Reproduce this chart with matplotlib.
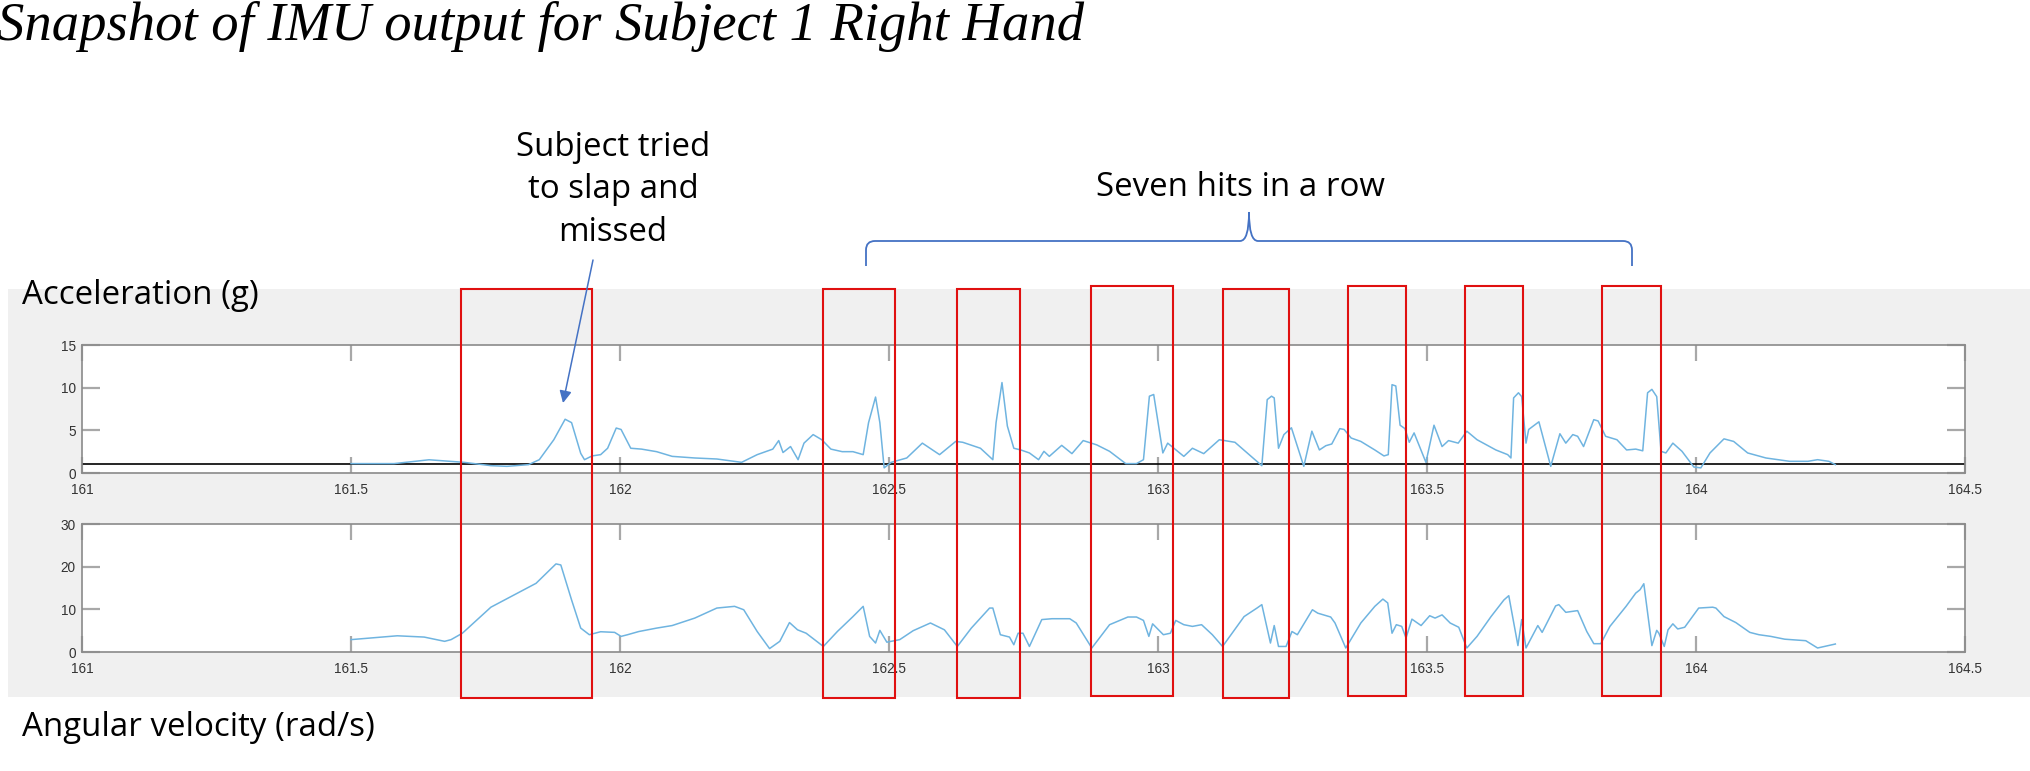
import numpy as np
import matplotlib
matplotlib.use("Agg")
import matplotlib.pyplot as plt
from matplotlib.patches import Rectangle, PathPatch
from matplotlib.path import Path
from matplotlib.transforms import blended_transform_factory

# ---------------- data ----------------
t_acc = [161.50, 161.58, 161.645, 161.71, 161.76, 161.79, 161.83, 161.85, 161.877, 161.898,
         161.91, 161.927, 161.934, 161.948, 161.964, 161.977, 161.993, 162.002, 162.02, 162.04,
         162.068, 162.097, 162.139, 162.18, 162.226, 162.255, 162.284, 162.295, 162.303, 162.317,
         162.331, 162.342, 162.359, 162.375, 162.392, 162.413, 162.433, 162.452, 162.462, 162.475,
         162.483, 162.491, 162.504, 162.533, 162.562, 162.594, 162.624, 162.637, 162.67, 162.693,
         162.699, 162.71, 162.72, 162.732, 162.745, 162.761, 162.778, 162.788, 162.798, 162.821,
         162.84, 162.861, 162.886, 162.91, 162.94, 162.96, 162.973, 162.984, 162.992, 163.002,
         163.009, 163.018, 163.048, 163.064, 163.085, 163.114, 163.143, 163.193, 163.203, 163.211,
         163.216, 163.224, 163.234, 163.248, 163.271, 163.286, 163.30, 163.312, 163.323, 163.338,
         163.346, 163.359, 163.377, 163.403, 163.42, 163.428, 163.435, 163.442, 163.45, 163.459,
         163.467, 163.476, 163.498, 163.513, 163.528, 163.54, 163.558, 163.574, 163.593, 163.628,
         163.65, 163.656, 163.661, 163.67, 163.676, 163.684, 163.689, 163.708, 163.73, 163.747,
         163.758, 163.771, 163.78, 163.791, 163.81, 163.818, 163.832, 163.853, 163.871, 163.888,
         163.901, 163.91, 163.918, 163.927, 163.935, 163.944, 163.957, 163.974, 163.996, 164.009,
         164.026, 164.052, 164.07, 164.096, 164.13, 164.174, 164.208, 164.226, 164.247, 164.259]
acc = [1.1, 1.1, 1.55, 1.25, 0.86, 0.78, 0.98, 1.56, 3.9, 6.3,
       5.9, 2.3, 1.56, 2.0, 2.15, 2.9, 5.27, 5.1, 2.9, 2.8,
       2.5, 1.95, 1.76, 1.64, 1.25, 2.15, 2.8, 3.8, 2.4, 3.1,
       1.56, 3.5, 4.5, 3.9, 2.8, 2.5, 2.5, 2.15, 5.9, 8.9,
       5.9, 0.6, 1.25, 1.76, 3.5, 2.15, 3.7, 3.6, 2.9, 1.56,
       5.9, 10.6, 5.5, 2.9, 2.7, 2.35, 1.56, 2.54, 1.95, 3.24,
       2.27, 3.8, 3.3, 2.54, 1.1, 1.1, 1.56, 9.0, 9.2, 5.2,
       2.35, 3.5, 1.95, 2.9, 2.27, 3.9, 3.6, 0.86, 8.6, 9.0,
       8.8, 2.9, 4.5, 5.3, 0.78, 4.9, 2.7, 3.2, 3.4, 5.2,
       5.1, 4.1, 3.7, 2.7, 2.0, 2.15, 10.35, 10.2, 5.6, 5.2,
       3.6, 4.7, 1.25, 5.6, 3.1, 3.8, 3.5, 4.9, 3.9, 2.7,
       2.15, 1.76, 8.8, 9.4, 8.95, 3.5, 5.1, 6.0, 0.78, 4.6,
       3.5, 4.5, 4.3, 3.1, 6.25, 6.1, 4.3, 3.9, 2.7, 2.8,
       2.6, 9.4, 9.8, 8.95, 2.54, 2.35, 3.5, 2.54, 0.7, 0.6,
       2.35, 4.0, 3.7, 2.35, 1.76, 1.37, 1.37, 1.56, 1.37, 0.98]

t_gyr = [161.5, 161.586, 161.636, 161.674, 161.686, 161.707, 161.76, 161.844, 161.881, 161.89,
         161.91, 161.927, 161.943, 161.964, 161.99, 162.002, 162.014, 162.035, 162.068, 162.097,
         162.139, 162.18, 162.213, 162.23, 162.255, 162.278, 162.297, 162.315, 162.33, 162.346,
         162.378, 162.404, 162.433, 162.452, 162.464, 162.475, 162.483, 162.496, 162.52, 162.545,
         162.577, 162.603, 162.627, 162.653, 162.687, 162.693, 162.707, 162.724, 162.732, 162.74,
         162.749, 162.761, 162.784, 162.803, 162.836, 162.848, 162.877, 162.91, 162.944, 162.96,
         162.973, 162.983, 162.99, 163.01, 163.023, 163.033, 163.048, 163.064, 163.081, 163.101,
         163.12, 163.16, 163.184, 163.193, 163.209, 163.216, 163.224, 163.238, 163.249, 163.259,
         163.287, 163.297, 163.321, 163.329, 163.349, 163.377, 163.403, 163.418, 163.427, 163.435,
         163.443, 163.453, 163.461, 163.472, 163.489, 163.505, 163.515, 163.528, 163.543, 163.559,
         163.574, 163.593, 163.619, 163.643, 163.652, 163.669, 163.676, 163.684, 163.706, 163.714,
         163.739, 163.745, 163.758, 163.78, 163.797, 163.81, 163.823, 163.84, 163.87, 163.888,
         163.896, 163.903, 163.918, 163.927, 163.931, 163.941, 163.948, 163.957, 163.966, 163.979,
         164.005, 164.031, 164.037, 164.052, 164.074, 164.1, 164.117, 164.139, 164.165, 164.204,
         164.226, 164.239, 164.259]
gyr = [2.9, 3.8, 3.5, 2.5, 2.9, 4.4, 10.5, 16.1, 20.65, 20.4,
       12.2, 5.6, 4.05, 4.75, 4.6, 3.66, 4.05, 4.8, 5.6, 6.2,
       7.95, 10.3, 10.7, 9.9, 4.8, 0.8, 2.5, 6.9, 5.2, 4.4,
       1.3, 4.8, 8.3, 10.7, 3.66, 2.1, 5.07, 2.3, 2.9, 5.0,
       6.8, 5.2, 1.3, 5.6, 10.3, 10.3, 4.05, 3.5, 1.7, 4.4,
       4.4, 1.3, 7.6, 7.8, 7.8, 6.8, 0.94, 6.4, 8.2, 8.2,
       7.4, 3.66, 6.6, 4.05, 4.4, 7.4, 6.4, 6.0, 6.4, 4.05,
       1.3, 8.3, 10.3, 11.1, 2.1, 6.2, 1.3, 1.3, 4.8, 4.05,
       9.9, 9.1, 8.2, 6.8, 0.94, 6.8, 10.7, 12.4, 11.5, 4.4,
       6.4, 6.0, 3.3, 7.7, 6.2, 8.5, 7.95, 8.7, 6.8, 5.8,
       0.94, 3.66, 8.3, 12.2, 13.2, 1.5, 7.6, 0.94, 6.2, 4.6,
       10.8, 11.1, 9.3, 9.7, 4.8, 1.95, 1.95, 6.0, 10.7, 13.8,
       14.6, 16.0, 1.5, 5.07, 4.4, 1.3, 5.2, 6.6, 5.4, 5.8,
       10.3, 10.5, 10.3, 8.3, 6.9, 4.6, 4.05, 3.66, 3.0, 2.65,
       0.94, 1.3, 1.87]

x_ticks = [161, 161.5, 162, 162.5, 163, 163.5, 164, 164.5]
x_tick_labels = ["161", "161.5", "162", "162.5", "163", "163.5", "164", "164.5"]
acc_ticks = [0, 5, 10, 15]
gyr_ticks = [0, 10, 20, 30]
gravity_level = 1.0

# highlighted time windows (start, end) in seconds
missed_window = (161.704, 161.948)
hit_windows = [(162.377, 162.511), (162.626, 162.743), (162.875, 163.028),
               (163.121, 163.243), (163.353, 163.461), (163.571, 163.678),
               (163.825, 163.935)]

title = "Snapshot of IMU output for Subject 1 Right Hand"
acc_label = "Acceleration (g)"
gyr_label = "Angular velocity (rad/s)"
missed_note = "Subject tried\nto slap and\nmissed"
hits_note = "Seven hits in a row"

# ---------------- figure ----------------
W, H = 2031, 771
fig = plt.figure(figsize=(W / 100, H / 100), dpi=100)
fig.patch.set_facecolor("white")

# gray panel
fig.patches.append(Rectangle((8 / W, 1 - 697 / H), 2023 / W, 408 / H,
                             transform=fig.transFigure, facecolor="#f0f0f0",
                             edgecolor="none", zorder=-5))

line_color = "#6fb4e0"
spine_color = "#8a8a8a"
tick_color = "#a8a8a8"
label_color = "#333333"

ax1 = fig.add_axes([82 / W, 1 - 473 / H, 1883 / W, 128 / H], zorder=1)
ax2 = fig.add_axes([82 / W, 1 - 652 / H, 1883 / W, 128 / H], zorder=1)


def style(ax, yticks):
    ax.set_xlim(161, 164.5)
    ax.set_ylim(yticks[0], yticks[-1])
    ax.set_xticks(x_ticks)
    ax.set_xticklabels(x_tick_labels, family="Liberation Sans")
    ax.set_yticks(yticks)
    ax.set_yticklabels([str(v) for v in yticks], family="Liberation Sans")
    ax.tick_params(axis="x", direction="in", length=11.5, width=1.6, color=tick_color,
                   top=True, bottom=True, labelsize=9.8, labelcolor=label_color, pad=7.5)
    ax.tick_params(axis="y", direction="in", length=13, width=1.6, color=tick_color,
                   left=True, right=True, labelsize=9.8, labelcolor=label_color, pad=4.5)
    for s in ax.spines.values():
        s.set_color(spine_color)
        s.set_linewidth(1.2)
    ax.set_facecolor("white")


style(ax1, acc_ticks)
style(ax2, gyr_ticks)

ax1.axhline(gravity_level, color="black", lw=1.2, zorder=2)
ax1.plot(t_acc, acc, color=line_color, lw=1.1, zorder=3)
ax2.plot(t_gyr, gyr, color=line_color, lw=1.1, zorder=3)

# ---------------- overlay (pixel coordinates) ----------------
ov = fig.add_axes([0, 0, 1, 1], zorder=10)
ov.set_xlim(0, W)
ov.set_ylim(H, 0)
ov.axis("off")
ov.patch.set_alpha(0)

trans = blended_transform_factory(ax1.transData, ov.transData)
box_kw = dict(fill=False, edgecolor="#e01010", lw=1.5, transform=trans)
ov.add_patch(Rectangle((missed_window[0], 289), missed_window[1] - missed_window[0], 409, **box_kw))
for i, (a, b) in enumerate(hit_windows):
    top, bottom = (289, 698) if i in (0, 1, 3) else (286, 696)
    ov.add_patch(Rectangle((a, top), b - a, bottom - top, **box_kw))

font_lbl = "Open Sans"
fs_lbl = 23.8
ov.text(-3, 40, title, family="Liberation Serif", style="italic", fontsize=39.3,
        ha="left", va="baseline", color="black")
ov.text(22, 295, acc_label, family=font_lbl, fontsize=fs_lbl, ha="left", va="center", color="black")
ov.text(22, 728, gyr_label, family=font_lbl, fontsize=fs_lbl, ha="left", va="center", color="black")
ov.text(613, 190, missed_note, family=font_lbl, fontsize=fs_lbl, ha="center", va="center",
        linespacing=1.38, color="black")
ov.text(1240, 188, hits_note, family=font_lbl, fontsize=fs_lbl, ha="center", va="center", color="black")

brace_color = "#4472c4"
ov.annotate("", xy=(563, 403), xytext=(593, 260),
            arrowprops=dict(arrowstyle="-|>", color=brace_color, lw=1.1,
                            mutation_scale=18, shrinkA=0, shrinkB=0))

verts = [(866, 266), (866, 250), (866, 241), (875, 241), (1240, 241), (1249, 241), (1249, 212),
         (1249, 241), (1258, 241), (1623, 241), (1632, 241), (1632, 250), (1632, 266)]
codes = [Path.MOVETO, Path.LINETO, Path.CURVE3, Path.CURVE3, Path.LINETO, Path.CURVE3, Path.CURVE3,
         Path.CURVE3, Path.CURVE3, Path.LINETO, Path.CURVE3, Path.CURVE3, Path.LINETO]
ov.add_patch(PathPatch(Path(verts, codes), fill=False, edgecolor=brace_color, lw=1.3))

fig.savefig("out.png", dpi=100)
